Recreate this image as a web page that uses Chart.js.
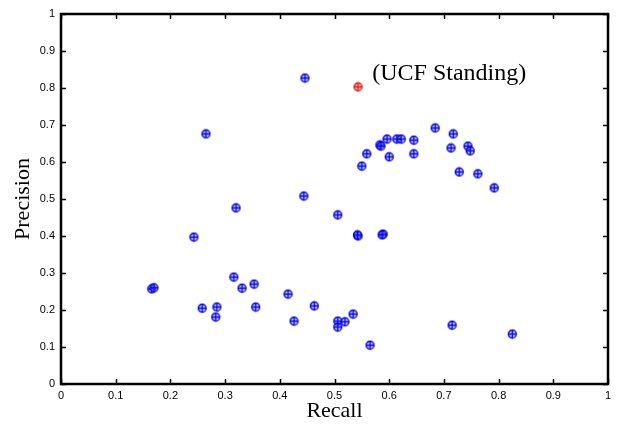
<!DOCTYPE html>
<html>
<head>
<meta charset="utf-8">
<script src="https://cdn.jsdelivr.net/npm/chart.js@4/dist/chart.umd.min.js"></script>
<style>
  html, body { margin: 0; padding: 0; background: #fff; }
  #wrap { width: 621px; height: 426px; position: relative; }
</style>
</head>
<body>
<div id="wrap"><canvas id="pr"></canvas></div>
<script>
// precision / recall of each run
const recall = [0.446, 0.265, 0.444, 0.320, 0.506, 0.243, 0.684, 0.717, 0.596, 0.614, 0.622,
  0.645, 0.583, 0.585, 0.713, 0.744, 0.748, 0.559, 0.600, 0.645, 0.550, 0.728, 0.762, 0.792,
  0.543, 0.542, 0.589, 0.587, 0.166, 0.170, 0.316, 0.331, 0.353, 0.415, 0.258, 0.285, 0.283,
  0.356, 0.463, 0.426, 0.506, 0.519, 0.506, 0.534, 0.565, 0.715, 0.825];
const precision = [0.827, 0.676, 0.508, 0.476, 0.457, 0.397, 0.692, 0.676, 0.662, 0.662, 0.662,
  0.659, 0.646, 0.643, 0.638, 0.643, 0.630, 0.622, 0.614, 0.622, 0.589, 0.573, 0.568, 0.530,
  0.400, 0.403, 0.405, 0.403, 0.257, 0.260, 0.289, 0.259, 0.270, 0.243, 0.205, 0.208, 0.181,
  0.208, 0.211, 0.170, 0.170, 0.168, 0.154, 0.189, 0.105, 0.159, 0.135];
const ucfRecall = [0.543];
const ucfPrecision = [0.803];
const tickValues = [0, 0.1, 0.2, 0.3, 0.4, 0.5, 0.6, 0.7, 0.8, 0.9, 1];

function marker(color, fill) {
  const c = document.createElement('canvas');
  c.width = 11; c.height = 11;
  const g = c.getContext('2d');
  g.strokeStyle = color;
  g.fillStyle = fill;
  g.lineWidth = 1.3;
  g.beginPath(); g.arc(5.5, 5.5, 4, 0, Math.PI * 2); g.fill(); g.stroke();
  g.beginPath();
  g.moveTo(1.5, 5.5); g.lineTo(9.5, 5.5);
  g.moveTo(5.5, 1.5); g.lineTo(5.5, 9.5);
  g.stroke();
  return c;
}

const toPoints = (xs, ys) => xs.map((x, i) => ({ x, y: ys[i] }));

// MATLAB style box: thick frame, ticks pointing inwards on all four sides
const frame = {
  id: 'frame',
  afterDraw(chart) {
    const { ctx, chartArea: a, scales } = chart;
    ctx.save();
    ctx.strokeStyle = '#000';
    ctx.lineWidth = 1.5;
    ctx.beginPath();
    tickValues.forEach((v) => {
      const px = Math.round(scales.x.getPixelForValue(v)) + 0.5;
      const py = Math.round(scales.y.getPixelForValue(v)) + 0.5;
      ctx.moveTo(px, a.bottom); ctx.lineTo(px, a.bottom - 5);
      ctx.moveTo(px, a.top); ctx.lineTo(px, a.top + 5);
      ctx.moveTo(a.left, py); ctx.lineTo(a.left + 5, py);
      ctx.moveTo(a.right, py); ctx.lineTo(a.right - 5, py);
    });
    ctx.stroke();
    ctx.lineWidth = 2.5;
    ctx.strokeRect(a.left, a.top, a.right - a.left, a.bottom - a.top);

    ctx.fillStyle = '#000';
    ctx.font = '24px "Liberation Serif", "Times New Roman", serif';
    ctx.textBaseline = 'middle';
    ctx.textAlign = 'left';
    ctx.fillText('(UCF Standing)', scales.x.getPixelForValue(0.569), scales.y.getPixelForValue(0.838));
    ctx.restore();
  },
};

const tickFont = { family: '"Liberation Sans", Arial, sans-serif', size: 11 };
const titleFont = { family: '"Liberation Serif", "Times New Roman", serif', size: 22 };

new Chart(document.getElementById('pr'), {
  type: 'scatter',
  data: {
    datasets: [
      {
        data: toPoints(recall, precision),
        pointStyle: marker('#0000e0', 'rgba(150,150,255,0.45)'),
      },
      {
        data: toPoints(ucfRecall, ucfPrecision),
        pointStyle: marker('#e01010', 'rgba(255,150,150,0.45)'),
      },
    ],
  },
  options: {
    responsive: true,
    maintainAspectRatio: false,
    animation: false,
    layout: { padding: { top: 14, right: 13, left: 0, bottom: 0 } },
    plugins: { legend: { display: false }, tooltip: { enabled: false } },
    scales: {
      x: {
        type: 'linear', min: 0, max: 1,
        afterBuildTicks: (s) => { s.ticks = tickValues.map((v) => ({ value: v })); },
        afterFit: (s) => { s.height = 42; },
        grid: { display: false, drawTicks: false },
        border: { display: false },
        ticks: { color: '#000', font: tickFont, padding: 5, maxRotation: 0, callback: (v) => String(v) },
        title: { display: true, text: 'Recall', color: '#000', font: titleFont, padding: { top: 0, bottom: 2 } },
      },
      y: {
        type: 'linear', min: 0, max: 1,
        afterBuildTicks: (s) => { s.ticks = tickValues.map((v) => ({ value: v })); },
        afterFit: (s) => { s.width = 61; },
        grid: { display: false, drawTicks: false },
        border: { display: false },
        ticks: { color: '#000', font: tickFont, padding: 6, callback: (v) => String(v) },
        title: { display: true, text: 'Precision', color: '#000', font: titleFont, padding: { top: 10, bottom: 0 } },
      },
    },
  },
  plugins: [frame],
});
</script>
</body>
</html>
